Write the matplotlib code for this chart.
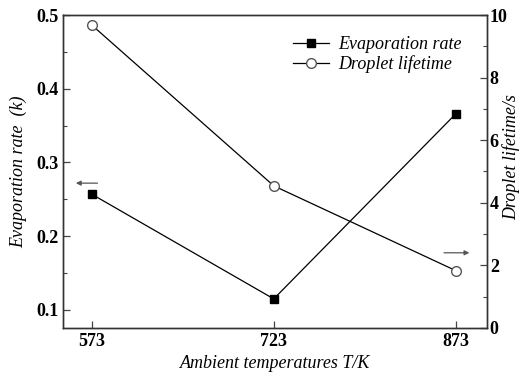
import matplotlib
matplotlib.use("Agg")
import matplotlib.pyplot as plt
from matplotlib.ticker import MultipleLocator

# Data
temps = [573, 723, 873]
evap_rate = [0.257, 0.115, 0.366]
lifetime = [9.68, 4.54, 1.83]

plt.rcParams['font.family'] = ['Liberation Serif', 'DejaVu Serif']

fig = plt.figure(figsize=(5.26, 3.76), dpi=100)
ax = fig.add_axes([0.12, 0.128, 0.806, 0.832])
ax2 = ax.twinx()

l1, = ax.plot(temps, evap_rate, color='black', lw=0.9, marker='s',
              markersize=5.5, markerfacecolor='black', label='Evaporation rate')
l2, = ax2.plot(temps, lifetime, color='black', lw=0.9, marker='o',
               markersize=7, markerfacecolor='white', markeredgecolor='#555555',
               label='Droplet lifetime')

ax.set_xlim(549.4, 898.8)
ax.set_ylim(0.0757, 0.5)
ax2.set_ylim(0, 10)
ax.set_xticks(temps)
ax.yaxis.set_major_locator(MultipleLocator(0.1))
ax.yaxis.set_minor_locator(MultipleLocator(0.05))
ax2.yaxis.set_major_locator(MultipleLocator(2))
ax2.yaxis.set_minor_locator(MultipleLocator(1))

for a in (ax, ax2):
    a.tick_params(direction='in', which='major', length=5, width=0.9, color='#444444', labelsize=13)
    a.tick_params(direction='in', which='minor', length=3, width=0.8, color='#444444')
    for s in a.spines.values():
        s.set_color('#333333')
        s.set_linewidth(1.0)
    for lab in a.get_xticklabels() + a.get_yticklabels():
        lab.set_fontweight('bold')
ax2.tick_params(axis='y', pad=2)

ax.set_xlabel('Ambient temperatures T/K', fontsize=13, style='italic', labelpad=4)
ax.set_ylabel('Evaporation rate  (k)', fontsize=13, style='italic', labelpad=6)
# right label sits a bit above the axis centre in the original
fig.text(511 / 526, 1 - 157 / 376, 'Droplet lifetime/s', fontsize=13, style='italic',
         rotation=90, ha='center', va='center')

# arrows pointing to the matching axis
ax.annotate('', xy=(557.6, 0.272), xytext=(580.0, 0.272),
            arrowprops=dict(arrowstyle='-|>', color='#555555', lw=0.9, mutation_scale=7))
ax2.annotate('', xy=(886.5, 2.4), xytext=(861.0, 2.4),
             arrowprops=dict(arrowstyle='-|>', color='#555555', lw=0.9, mutation_scale=7))

leg = ax.legend(handles=[l1, l2], loc='upper left', bbox_to_anchor=(0.525, 0.955),
                frameon=False, prop={'style': 'italic', 'size': 13},
                handlelength=2.0, handletextpad=0.5, labelspacing=0.1, borderaxespad=0)

fig.savefig('out.png', dpi=100)
